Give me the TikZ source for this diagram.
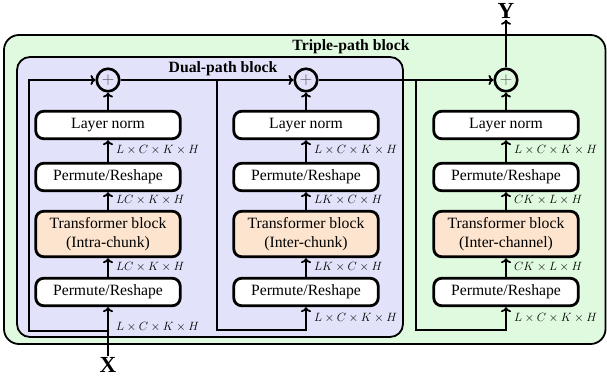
\documentclass[tikz,border=0pt]{standalone}
\usepackage[no-math]{fontspec}
\setmainfont{Liberation Serif}
\usetikzlibrary{arrows.meta}
\definecolor{gfill}{RGB}{224,250,224}
\definecolor{bfill}{RGB}{226,226,250}
\definecolor{ofill}{RGB}{252,228,206}
\begin{document}
\begin{tikzpicture}[x=1pt,y=-1pt,
  box/.style={draw, line width=2.8pt, rounded corners=8pt, fill=white,
    minimum width=144.5pt, minimum height=27.5pt, inner sep=0pt, align=center,
    font=\fontsize{15.7}{18.5}\selectfont},
  tbox/.style={box, fill=ofill, minimum height=45.5pt},
  sumnode/.style={draw, circle, line width=2.6pt, minimum size=22.5pt, inner sep=0pt,
    text=black!70, font=\fontsize{17.28}{17}\selectfont},
  conn/.style={line width=1.8pt},
  arr/.style={conn, -{Computer Modern Rightarrow[length=5pt,width=10pt]}},
  dim/.style={anchor=west, inner sep=0pt, font=\fontsize{12}{14}\selectfont},
  ttl/.style={inner sep=0pt, font=\bfseries\fontsize{15.7}{18}\selectfont},
  io/.style={inner sep=1pt, font=\bfseries\fontsize{23}{24}\selectfont}
]
\useasboundingbox (0,0) rectangle (607,383);
% containers
\draw[line width=1.8pt, fill=gfill, rounded corners=15pt] (4,35) rectangle (605.5,344);
\draw[line width=1.8pt, fill=bfill, rounded corners=13pt] (17,57) rectangle (403,337);
\node[ttl] (t3) at (351,47) {Triple-path block};
\node[ttl] (t2) at (223,69) {Dual-path block};
% column 1
\node[sumnode] (s1) at (108,80) {$+$};
\node[box] (l1) at (108,125) {Layer norm};
\node[box] (p1) at (108,177) {Permute/Reshape};
\node[tbox] (b1) at (108,234) {Transformer block\\(Intra-chunk)};
\node[box] (q1) at (108,292) {Permute/Reshape};
% column 2
\node[sumnode] (s2) at (306,80) {$+$};
\node[box] (l2) at (306,125) {Layer norm};
\node[box] (p2) at (306,177) {Permute/Reshape};
\node[tbox] (b2) at (306,234) {Transformer block\\(Inter-chunk)};
\node[box] (q2) at (306,292) {Permute/Reshape};
% column 3
\node[sumnode] (s3) at (506,80) {$+$};
\node[box] (l3) at (506,125) {Layer norm};
\node[box] (p3) at (506,177) {Permute/Reshape};
\node[tbox] (b3) at (506,234) {Transformer block\\(Inter-channel)};
\node[box] (q3) at (506,292) {Permute/Reshape};
% input / output
\node[io] (X) at (108,365) {X};
\node[io] (Y) at (506,11) {Y};
% vertical chains
\foreach \c in {1,2,3}{
  \draw[arr] (q\c) -- (b\c);
  \draw[arr] (b\c) -- (p\c);
  \draw[arr] (p\c) -- (l\c);
  \draw[arr] (l\c) -- (s\c);
}
\draw[arr] (X) -- (q1);
\draw[arr] (s1) -- (s2);
\draw[arr] (s2) -- (s3);
\draw[arr] (s3) -- (Y);
% residual paths
\coordinate (j1) at (108,331);
\coordinate (r1) at (29,331);
\draw[arr] (j1) -- (r1) |- (s1);
\coordinate (j2) at (217,80);
\coordinate (r2) at (217,330);
\draw[arr] (j2) -- (r2) -| (q2);
\coordinate (j3) at (416,80);
\coordinate (r3) at (416,330);
\draw[arr] (j3) -- (r3) -| (q3);
% dimension labels
\node[dim] (d11) at (116,150) {$L\times C\times K\times H$};
\node[dim] (d12) at (116,200) {$LC\times K\times H$};
\node[dim] (d13) at (116,267) {$LC\times K\times H$};
\node[dim] (d14) at (116,327) {$L\times C\times K\times H$};
\node[dim] (d21) at (314,150) {$L\times C\times K\times H$};
\node[dim] (d22) at (314,200) {$LK\times C\times H$};
\node[dim] (d23) at (314,267) {$LK\times C\times H$};
\node[dim] (d24) at (314,318) {$L\times C\times K\times H$};
\node[dim] (d31) at (514,150) {$L\times C\times K\times H$};
\node[dim] (d32) at (514,200) {$CK\times L\times H$};
\node[dim] (d33) at (514,267) {$CK\times L\times H$};
\node[dim] (d34) at (514,318) {$L\times C\times K\times H$};
\end{tikzpicture}
\end{document}
